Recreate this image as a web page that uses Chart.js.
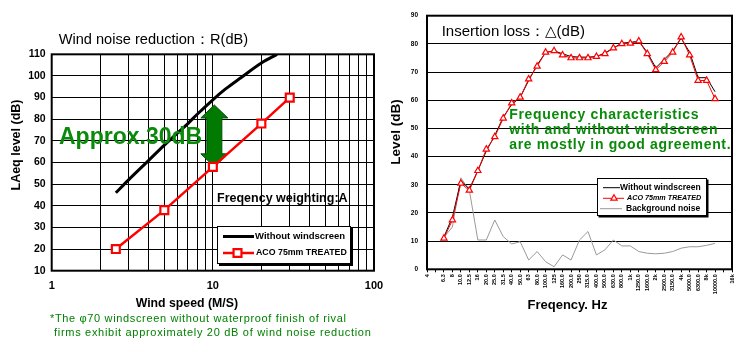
<!DOCTYPE html>
<html><head><meta charset="utf-8">
<script src="https://cdn.jsdelivr.net/npm/chart.js@4.4.1/dist/chart.umd.min.js"></script>
<style>
html,body{margin:0;padding:0;background:#fff;}
#wrap{position:relative;width:755px;height:352px;overflow:hidden;background:#fff;}
#c1{position:absolute;left:0;top:0;}
#c2{position:absolute;left:390px;top:0;}
</style></head><body>
<div id="wrap"><canvas id="c1" width="390" height="352"></canvas><canvas id="c2" width="365" height="352"></canvas></div>
<script>
// ===== Left chart: wind noise reduction =====
const leftTitle = 'Wind noise reduction\uFF1AR(dB)';
const bareSpeeds = [2.5, 3, 4, 5, 6, 7, 8, 10, 12, 15, 20, 25];
const bareLevels = [46, 52, 61, 68, 73.5, 78, 82.3, 89, 94, 99.3, 106, 110];
const acoSpeeds = [2.5, 5, 10, 20, 30];
const acoLevels = [20, 38, 58, 78, 90];
const windGridValues = [1,2,3,4,5,6,7,8,9,10,20,30,40,50,60,70,80,90,100];
const windTickLabels = [1, 10, 100];
const leftSeriesNames = ['Without windscreen', 'ACO 75mm TREATED'];
const arrowSpeed = 10, arrowFrom = 86.6, arrowTo = 58;

// ===== Right chart: insertion loss =====
const bandLabels = ['4','5','6.3','8','10','12.5','16','20','25','31.5','40','50','63','80','100','125','160','200','250','315','400','500','630','800','1k','1.25k','1.6k','2k','2.5k','3.15k','4k','5k','6.3k','8k','10k','12.5k','16k'];
const bandTickLabels = ['4','','6.3','8','10.0','12.5','16','20.0','25.0','31.5','40.0','50.0','63','80.0','100.0','125','160.0','200.0','250','315.0','400.0','500.0','630.0','800.0','1k','1250.0','1600.0','2k','2500.0','3150.0','4k','5000.0','6300.0','8k','10000.0','','16k'];
const lossBare = [null,null,11.5,18.5,31.5,28.5,35,42,47.5,54,58.5,61,67,72.5,77,77.5,76.5,75.5,75.3,75.3,75.5,76.8,78.5,80.3,80.5,81,77,71.5,74.5,77.5,82,77,68,68,63,null,null];
const lossAco = [null,null,11,17.5,30.5,28,35,42.6,47,53.6,59,61,67.5,72,77,77.5,76,75,75,75,75.5,76.5,78.5,80,80.2,81,76.5,70.8,73.7,77,82.4,76,67,67,60.5,null,null];
const bgNoise = [null,null,11.4,15,32.5,28,10.4,10.4,17.5,11.6,9,9.8,3.3,6.3,2.7,0.9,5.1,3.3,10.4,13.4,5.1,6.9,10.4,8.3,8.3,6.3,5.7,5.5,5.7,6.3,7.5,8,8,8.5,9.2,null,null];
const rightSeriesNames = ['Without windscreen', 'ACO 75mm TREATED', 'Background noise'];
const rightTitle = 'Insertion loss\uFF1A\u25B3(dB)';

Chart.defaults.font.family = '"Liberation Sans", Arial, "DejaVu Sans", sans-serif';
Chart.defaults.color = '#000';

const GREEN = '#0a8a0a';

function drawMarker(ctx, style, x, y, r, fill, stroke, lw) {
  ctx.save();
  ctx.fillStyle = fill; ctx.strokeStyle = stroke; ctx.lineWidth = lw;
  ctx.beginPath();
  if (style === 'rect') {
    const s = r * Math.SQRT1_2;
    ctx.rect(x - s, y - s, 2 * s, 2 * s);
  } else if (style === 'triangle') {
    for (let k = 0; k < 3; k++) {
      const a = -Math.PI / 2 + k * 2 * Math.PI / 3;
      const px = x + Math.cos(a) * r, py = y + Math.sin(a) * r;
      if (k === 0) ctx.moveTo(px, py); else ctx.lineTo(px, py);
    }
    ctx.closePath();
  }
  ctx.fill(); ctx.stroke();
  ctx.restore();
}

const framePlugin = {
  id: 'frame',
  beforeDatasetsDraw(chart, args, o) {
    const a = chart.chartArea, ctx = chart.ctx;
    ctx.save();
    ctx.strokeStyle = '#000'; ctx.lineWidth = o.width || 2;
    ctx.strokeRect(a.left, a.top, a.right - a.left, a.bottom - a.top);
    ctx.restore();
  }
};

const titleShift = {
  id: 'titleShift',
  afterLayout(chart, args, o) {
    const t = chart.titleBlock;
    if (t && o.dx) { t.left += o.dx; t.right += o.dx; }
  }
};

// nudges the built-in axis titles (they are drawn by Chart.js, only translated)
const axisTitleNudge = {
  id: 'axisTitleNudge',
  beforeDraw(chart, args, o) {
    Object.keys(o).forEach(id => {
      const s = chart.scales[id];
      const n = o[id];
      if (!s || !n || typeof n !== 'object' || s._nudged) return;
      const orig = s.drawTitle.bind(s);
      s.drawTitle = function () {
        const c = this.ctx; c.save(); c.translate(n.dx || 0, n.dy || 0); orig(); c.restore();
      };
      s._nudged = true;
    });
  }
};

const boxLegend = {
  id: 'boxLegend',
  afterDraw(chart, args, o) {
    if (!o.items) return;
    const ctx = chart.ctx;
    ctx.save();
    if (o.shadow) { ctx.fillStyle = '#000'; ctx.fillRect(o.x + o.shadow, o.y + o.shadow, o.w, o.h); }
    ctx.fillStyle = '#fff'; ctx.fillRect(o.x, o.y, o.w, o.h);
    ctx.strokeStyle = '#000'; ctx.lineWidth = 1; ctx.strokeRect(o.x + 0.5, o.y + 0.5, o.w - 1, o.h - 1);
    o.items.forEach(it => {
      const ds = chart.data.datasets[it.dataset];
      const y = o.y + it.dy;
      ctx.strokeStyle = ds.borderColor; ctx.lineWidth = it.lineWidth || ds.borderWidth;
      ctx.beginPath(); ctx.moveTo(o.x + it.x0, y); ctx.lineTo(o.x + it.x1, y); ctx.stroke();
      if (it.mx !== undefined) drawMarker(ctx, ds.pointStyle, o.x + it.mx, y, ds.pointRadius, ds.pointBackgroundColor, ds.borderColor, ds.pointBorderWidth);
      ctx.fillStyle = '#000'; ctx.font = it.font; ctx.textBaseline = 'middle'; ctx.textAlign = 'left';
      ctx.fillText(ds.label, o.x + it.tx, y);
    });
    ctx.restore();
  }
};

const notesPlugin = {
  id: 'notes',
  afterDraw(chart, args, o) {
    if (!o.items) return;
    const ctx = chart.ctx;
    ctx.save();
    o.items.forEach(it => {
      ctx.font = it.font; ctx.fillStyle = it.color || '#000';
      ctx.textAlign = it.align || 'left'; ctx.textBaseline = it.baseline || 'middle';
      ctx.letterSpacing = it.spacing || '0px';
      ctx.fillText(it.text, it.x, it.y);
    });
    ctx.restore();
  }
};

const arrowPlugin = {
  id: 'dbArrow',
  beforeDatasetsDraw(chart, args, o) {
    if (o.at === undefined) return;
    const xs = chart.scales.x, ys = chart.scales.y, ctx = chart.ctx;
    const cx = xs.getPixelForValue(o.at) + (o.dx || 0);
    const yTop = ys.getPixelForValue(o.from), yBot = ys.getPixelForValue(o.to);
    const hw = o.headWidth / 2, sw = o.shaftWidth / 2, hl = o.headLength;
    ctx.save();
    ctx.beginPath();
    ctx.moveTo(cx, yTop); ctx.lineTo(cx + hw, yTop + hl); ctx.lineTo(cx + sw, yTop + hl);
    ctx.lineTo(cx + sw, yBot - hl); ctx.lineTo(cx + hw, yBot - hl); ctx.lineTo(cx, yBot);
    ctx.lineTo(cx - hw, yBot - hl); ctx.lineTo(cx - sw, yBot - hl); ctx.lineTo(cx - sw, yTop + hl);
    ctx.lineTo(cx - hw, yTop + hl); ctx.closePath();
    ctx.fillStyle = o.fill; ctx.strokeStyle = o.stroke; ctx.lineWidth = 1;
    ctx.fill(); ctx.stroke();
    ctx.restore();
  }
};

// ---------- Left chart ----------
new Chart(document.getElementById('c1'), {
  type: 'line',
  data: {
    datasets: [
      { label: leftSeriesNames[0], data: bareSpeeds.map((s, i) => ({ x: s, y: bareLevels[i] })),
        borderColor: '#000', borderWidth: 3, pointRadius: 0, cubicInterpolationMode: 'monotone', order: 1 },
      { label: leftSeriesNames[1], data: acoSpeeds.map((s, i) => ({ x: s, y: acoLevels[i] })),
        borderColor: '#ff0000', borderWidth: 2.5, pointStyle: 'rect', pointRadius: 5.6,
        pointBackgroundColor: '#fff', pointBorderColor: '#ff0000', pointBorderWidth: 2.2, tension: 0, order: 0 }
    ]
  },
  options: {
    responsive: false, animation: false, devicePixelRatio: 1,
    layout: { padding: { left: 0, right: 16, top: 0, bottom: 0 } },
    scales: {
      x: {
        type: 'logarithmic', min: 1, max: 100,
        afterBuildTicks: s => { s.ticks = windGridValues.map(v => ({ value: v })); },
        grid: { color: '#000', lineWidth: 1, drawTicks: false },
        border: { display: false },
        ticks: { autoSkip: false, maxRotation: 0, padding: 9, font: { size: 11, weight: 'bold' }, color: '#000',
          callback: v => windTickLabels.includes(v) ? String(v) : '' },
        title: { display: true, text: 'Wind speed (M/S)', color: '#000', font: { size: 12.3, weight: 'bold' }, padding: { top: 0, bottom: 40.8 } },
        afterFit: s => { s.height = 81.3; s.paddingLeft = 0; s.paddingRight = 0; }
      },
      y: {
        min: 10, max: 110,
        ticks: { stepSize: 10, padding: 6, font: { size: 10.5, weight: 'bold' }, color: '#000' },
        grid: { color: '#000', lineWidth: 1, drawTicks: false },
        border: { display: false },
        title: { display: true, text: 'LAeq level (dB)', color: '#000', font: { size: 12.5, weight: 'bold' }, padding: { top: 8.7, bottom: 0 } },
        afterFit: s => { s.width = 51.7; s.paddingTop = 0; s.paddingBottom = 0; }
      }
    },
    plugins: {
      legend: { display: false },
      tooltip: { enabled: false },
      title: { display: true, text: leftTitle, align: 'start', fullSize: false, color: '#000',
        font: { size: 14.6, weight: 'normal' }, padding: { top: 31.3, bottom: 5.5 } },
      titleShift: { dx: 7 },
      axisTitleNudge: { x: { dx: -26 }, y: { dy: -17.5 } },
      frame: { width: 2 },
      dbArrow: { at: arrowSpeed, from: arrowFrom, to: arrowTo, dx: 1.5, headWidth: 27, shaftWidth: 15, headLength: 13,
        fill: '#007a00', stroke: '#005200' },
      boxLegend: {
        x: 217, y: 226, w: 134, h: 38, shadow: 2,
        items: [
          { dataset: 0, dy: 10.5, x0: 6, x1: 37, tx: 38, lineWidth: 3, font: 'bold 9.5px "Liberation Sans", Arial' },
          { dataset: 1, dy: 27, x0: 6, x1: 37, mx: 20.5, tx: 39, lineWidth: 2.5, font: 'bold 8.8px "Liberation Sans", Arial' }
        ]
      },
      notes: {
        items: [
          { text: 'Approx.30dB', x: 59, y: 143.5, baseline: 'alphabetic', font: 'bold 23px "Liberation Sans", Arial', color: GREEN },
          { text: 'Freqency weighting:A', x: 217, y: 199, font: 'bold 12.5px "Liberation Sans", Arial', color: '#000' },
          { text: '*The \u03C670 windscreen without waterproof finish of rival', x: 50, y: 318.5, font: '11px "Liberation Sans", Arial', spacing: '0.65px', color: '#008000' },
          { text: 'firms exhibit approximately 20 dB of wind noise reduction', x: 54, y: 332.5, font: '11px "Liberation Sans", Arial', spacing: '0.7px', color: '#008000' }
        ]
      }
    }
  },
  plugins: [titleShift, axisTitleNudge, framePlugin, arrowPlugin, boxLegend, notesPlugin]
});

// ---------- Right chart ----------
new Chart(document.getElementById('c2'), {
  type: 'line',
  data: {
    labels: bandLabels,
    datasets: [
      { label: rightSeriesNames[0], data: lossBare, borderColor: '#000', borderWidth: 1, pointRadius: 0, tension: 0, order: 1 },
      { label: rightSeriesNames[1], data: lossAco, borderColor: '#ff0000', borderWidth: 1, pointStyle: 'triangle', pointRadius: 3.6,
        pointBackgroundColor: '#fff', pointBorderColor: '#ff0000', pointBorderWidth: 1.2, tension: 0, order: 0 },
      { label: rightSeriesNames[2], data: bgNoise, borderColor: '#999999', borderWidth: 1, pointRadius: 0, tension: 0, order: 2 }
    ]
  },
  options: {
    responsive: false, animation: false, devicePixelRatio: 1,
    layout: { padding: { left: 0, right: 23, top: 15.7, bottom: 0 } },
    scales: {
      x: {
        type: 'category', offset: false,
        grid: { display: true, drawOnChartArea: false, drawTicks: true, tickLength: 3, color: '#000' },
        border: { display: false },
        ticks: { autoSkip: false, minRotation: 90, maxRotation: 90, padding: 2, font: { size: 5.5, weight: 'bold' }, color: '#000',
          callback: (v, i) => bandTickLabels[i] },
        title: { display: true, text: 'Freqency. Hz', color: '#000', font: { size: 13, weight: 'bold' }, padding: { top: 0, bottom: 39 } },
        afterFit: s => { s.height = 82.7; s.paddingLeft = 0; s.paddingRight = 0; }
      },
      y: {
        min: 0, max: 90,
        ticks: { stepSize: 10, padding: 9, font: { size: 6.5, weight: 'bold' }, color: '#000' },
        grid: { color: '#000', lineWidth: 1, drawTicks: false },
        border: { display: false },
        title: { display: true, text: 'Level (dB)', color: '#000', font: { size: 13.5, weight: 'bold', lineHeight: 1 }, padding: { top: 0, bottom: 0 } },
        afterFit: s => { s.width = 37; s.paddingTop = 0; s.paddingBottom = 0; }
      }
    },
    plugins: {
      legend: { display: false },
      tooltip: { enabled: false },
      axisTitleNudge: { x: { dx: -12 }, y: { dy: -10.5 } },
      frame: { width: 2 },
      boxLegend: {
        x: 207, y: 178, w: 110, h: 38, shadow: 1.5,
        items: [
          { dataset: 0, dy: 9.7, x0: 6, x1: 23, tx: 23, font: 'bold 8.5px "Liberation Sans", Arial' },
          { dataset: 1, dy: 20.3, x0: 6, x1: 27, mx: 17, tx: 30, font: 'italic bold 7.2px "Liberation Sans", Arial' },
          { dataset: 2, dy: 30.7, x0: 3, x1: 25, tx: 29, font: 'bold 8.5px "Liberation Sans", Arial' }
        ]
      },
      notes: {
        items: [
          { text: rightTitle, x: 51.7, y: 31.7, font: '15px "Liberation Sans", "DejaVu Sans", Arial', color: '#000' },
          { text: 'Frequency characteristics', x: 119.3, y: 115.5, font: 'bold 14px "Liberation Sans", Arial', spacing: '0.65px', color: GREEN },
          { text: 'with and without windscreen', x: 119.3, y: 130.3, font: 'bold 14px "Liberation Sans", Arial', spacing: '0.65px', color: GREEN },
          { text: 'are mostly in good agreement.', x: 119.3, y: 145, font: 'bold 14px "Liberation Sans", Arial', spacing: '0.65px', color: GREEN }
        ]
      }
    }
  },
  plugins: [axisTitleNudge, framePlugin, boxLegend, notesPlugin]
});
</script>
</body></html>
